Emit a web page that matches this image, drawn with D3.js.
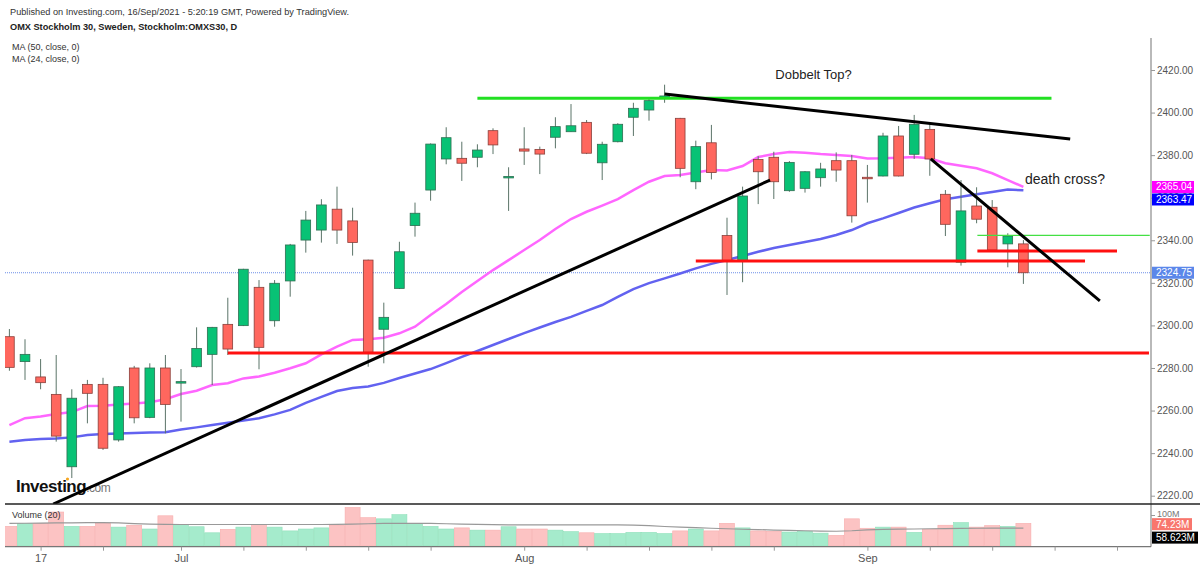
<!DOCTYPE html>
<html>
<head>
<meta charset="utf-8">
<script src="https://cdn.jsdelivr.net/npm/d3@7"></script>
<style>
  body { margin: 0; background: #fff; }
  svg { display: block; font-family: "Liberation Sans", Arial, sans-serif; }
</style>
</head>
<body>
<script>
"use strict";

// OHLC per trading day, 15 Jun .. 15 Sep 2021 (index 0..65)
const opens = [2294.7,2283.0,2275.8,2267.6,2233.6,2272.3,2272.3,2246.2,2280.0,2256.8,
  2280.0,2273.3,2280.6,2286.4,2300.5,2299.9,2317.9,2302.2,2320.9,2340.1,
  2344.8,2354.6,2349.1,2330.7,2298.2,2317.4,2346.9,2363.6,2378.2,2378.5,
  2379.0,2391.5,2369.7,2382.9,2382.7,2388.4,2391.0,2395.4,2376.4,2386.3,
  2397.8,2401.2,2407.3,2397.3,2367.5,2385.8,2342.2,2330.4,2378.0,2379.0,
  2363.3,2364.4,2369.4,2377.4,2377.4,2369.6,2370.2,2389.0,2380.4,2392.1,
  2361.6,2329.7,2356.1,2355.5,2338.3,2338.3];
const highs = [2298.3,2293.5,2284.2,2286.1,2270.0,2274.4,2275.4,2271.5,2281.0,2282.2,
  2286.1,2279.5,2299.1,2299.3,2313.0,2326.6,2321.3,2321.3,2338.3,2353.8,
  2359.3,2365.2,2355.3,2330.9,2310.7,2339.3,2357.7,2385.5,2393.1,2386.3,
  2385.1,2392.6,2374.3,2393.1,2384.0,2397.8,2404.0,2396.5,2386.3,2395.0,
  2404.6,2406.7,2413.1,2397.5,2386.8,2394.2,2350.6,2365.2,2379.5,2381.6,
  2377.2,2372.5,2376.4,2381.3,2380.1,2375.4,2390.5,2393.7,2398.9,2394.6,
  2363.6,2368.3,2364.9,2358.9,2343.3,2340.1];
const lows = [2278.7,2274.4,2270.0,2245.4,2228.3,2254.0,2241.5,2245.4,2254.0,2256.4,
  2249.3,2254.8,2280.2,2272.0,2286.1,2299.7,2279.4,2299.4,2313.5,2334.2,
  2338.9,2338.3,2332.8,2280.6,2282.2,2317.1,2341.7,2358.6,2375.7,2367.9,
  2374.3,2380.5,2353.8,2375.4,2371.1,2383.2,2391.0,2380.5,2368.3,2386.0,
  2389.0,2396.2,2404.6,2369.6,2364.0,2368.6,2314.3,2320.3,2357.0,2359.4,
  2362.8,2362.4,2365.2,2367.5,2348.3,2357.7,2370.0,2370.0,2378.2,2370.3,
  2342.0,2328.1,2348.0,2335.2,2327.3,2319.5];
const closes = [2280.3,2286.4,2273.1,2248.0,2265.8,2268.1,2242.3,2271.2,2256.6,2280.0,
  2262.9,2273.6,2289.2,2299.1,2288.9,2326.4,2289.7,2319.8,2337.8,2349.5,
  2356.6,2344.8,2339.0,2287.4,2303.8,2334.6,2352.7,2385.2,2388.2,2376.2,
  2382.4,2384.8,2370.0,2381.9,2380.5,2393.4,2393.8,2380.9,2385.1,2394.5,
  2402.0,2405.6,2407.8,2373.8,2384.0,2371.8,2330.4,2360.8,2372.2,2367.5,
  2376.6,2372.2,2373.5,2373.0,2351.5,2368.9,2389.0,2370.2,2394.5,2378.2,
  2347.5,2353.8,2349.9,2335.4,2342.0,2324.75];

// volume in millions
const volumes = [64.4,74.3,74.3,111.4,64.4,64.4,74.3,61.9,68.1,55.7,
  99.0,70.5,63.1,43.3,54.5,61.9,70.5,61.9,49.5,55.7,
  59.4,68.1,126.2,92.8,89.1,102.7,74.3,64.4,55.7,59.4,
  52.0,52.0,63.1,55.7,55.7,52.0,47.0,43.3,40.8,40.8,
  44.6,44.6,40.8,49.5,55.7,49.5,74.3,59.4,49.5,48.3,
  45.8,48.3,42.1,34.7,89.1,58.2,61.9,61.9,44.6,54.5,
  68.1,76.7,61.9,66.8,64.4,74.23];
const volumeMA = [74.3,74.6,75.0,75.5,76.0,76.5,76.7,75.5,73.5,72.0,
  71.0,70.5,70.5,70.5,70.5,70.5,70.5,70.5,70.5,70.5,
  70.5,71.0,72.0,73.0,74.0,74.3,74.3,74.0,73.0,72.0,
  71.0,70.0,69.5,69.3,69.3,69.5,69.5,69.3,69.3,69.0,
  68.5,67.0,64.0,62.0,60.0,58.2,56.5,55.0,54.0,52.0,
  51.0,50.0,49.0,48.3,50.0,53.0,54.5,55.5,55.7,56.5,
  57.2,58.0,58.2,58.4,58.5,58.623];

const ma24 = [2253.2,2256.4,2257.2,2258.4,2259.3,2262.1,2262.3,2262.8,2263.3,2263.9,
  2265.3,2267.8,2269.3,2272.0,2272.8,2275.1,2276.0,2277.8,2279.9,2282.2,
  2286.4,2290.0,2293.2,2293.5,2294.2,2296.3,2299.4,2304.9,2310.1,2315.7,
  2320.9,2326.0,2330.7,2335.4,2340.1,2345.3,2350.0,2353.4,2356.3,2359.3,
  2363.6,2367.5,2370.2,2370.7,2371.8,2373.0,2372.8,2374.9,2379.1,2380.5,
  2381.5,2381.1,2380.5,2380.1,2379.6,2378.4,2378.5,2378.8,2379.1,2378.5,
  2376.2,2375.0,2373.8,2371.5,2368.3,2365.04];
const ma50 = [2245.4,2246.2,2246.6,2246.9,2247.4,2248.5,2249.0,2249.2,2249.5,2249.7,
  2249.8,2251.1,2252.1,2253.2,2254.3,2255.3,2256.4,2258.2,2260.3,2263.6,
  2266.4,2269.2,2270.6,2271.3,2273.0,2275.3,2277.4,2279.5,2282.3,2285.2,
  2288.0,2290.8,2293.6,2296.4,2299.0,2301.6,2304.0,2306.8,2309.6,2313.4,
  2317.1,2319.9,2322.1,2324.4,2326.8,2328.9,2330.7,2332.6,2334.6,2336.4,
  2337.8,2339.2,2340.6,2342.5,2344.8,2348.0,2350.3,2352.8,2355.4,2357.4,
  2359.3,2360.5,2361.6,2362.7,2363.9,2363.47];

const priceTicks = [2220, 2240, 2260, 2280, 2300, 2320, 2340, 2360, 2380, 2400, 2420];
const timeTicks = [2, 6, 11, 15, 19, 23, 27, 33, 37, 41, 45, 49, 55, 59, 63, 67, 71];
const timeLabels = {2: "17", 11: "Jul", 33: "Aug", 55: "Sep"};

// hand drawn lines, [index, price] endpoints
const blackLines = [
  [[2.81, 2216.1], [48.76, 2368.3]],
  [[42.0, 2408.7], [68.0, 2387.6]],
  [[59.06, 2378.2], [69.9, 2311.5]]
];
const redLines = [
  [[14.0, 2287.0], [73.05, 2287.0]],
  [[44.0, 2330.3], [68.95, 2330.3]],
  [[62.05, 2335.0], [71.0, 2335.0]]
];
const greenLines = [[[30.0, 2406.7], [66.8, 2406.7]]];
const thinGreenLines = [[[62.05, 2342.3], [73.1, 2342.3]]];
const notes = [
  {text: "Dobbelt Top?", at: [49.1, 2415.6], size: 13},
  {text: "death cross?", at: [65.1, 2366.6], size: 14}
];

const lastPrice = 2324.75;

const W = 1200, H = 566;
const plotLeft = 5, plotRight = 1151;
const priceTop = 38, priceBottom = 504;
const volTop = 504, volBottom = 546.7;

const svg = d3.select("body").append("svg").attr("width", W).attr("height", H);

const x = d3.scaleLinear().domain([0, 65]).range([9.4, 1023.4]);
const y = d3.scaleLinear().domain([2220, 2420]).range([495.7, 70]);
const yv = d3.scaleLinear().domain([0, 100]).range([546, 515.5]);
const step = x(1) - x(0);

svg.append("defs").append("clipPath").attr("id", "priceClip")
  .append("rect").attr("x", plotLeft).attr("y", priceTop)
  .attr("width", plotRight - plotLeft).attr("height", priceBottom - priceTop);
svg.append("defs").append("clipPath").attr("id", "volClip")
  .append("rect").attr("x", plotLeft).attr("y", volTop)
  .attr("width", plotRight - plotLeft).attr("height", volBottom - volTop);

// header
svg.append("text").attr("x", 10).attr("y", 15).attr("font-size", 9.2).attr("fill", "#333")
  .text("Published on Investing.com, 16/Sep/2021 - 5:20:19 GMT, Powered by TradingView.");
svg.append("text").attr("x", 10).attr("y", 29.5).attr("font-size", 9.2).attr("font-weight", "bold").attr("fill", "#222")
  .text("OMX Stockholm 30, Sweden, Stockholm:OMXS30, D");
svg.append("text").attr("x", 12).attr("y", 49.5).attr("font-size", 9).attr("fill", "#333").text("MA (50, close, 0)");
svg.append("text").attr("x", 12).attr("y", 61.5).attr("font-size", 9).attr("fill", "#333").text("MA (24, close, 0)");

// watermark
const logo = svg.append("text").attr("x", 16).attr("y", 492).attr("font-size", 17).attr("font-weight", "bold")
  .attr("fill", "#111").attr("letter-spacing", "-0.5");
logo.append("tspan").text("Investing");
logo.append("tspan").attr("font-size", 12).attr("font-weight", "normal").attr("fill", "#777").text(".com");
svg.append("circle").attr("cx", 67.5).attr("cy", 479).attr("r", 1.6).attr("fill", "#f5a623");

const price = svg.append("g").attr("clip-path", "url(#priceClip)");

// last price dotted line
price.append("line").attr("x1", plotLeft).attr("x2", plotRight)
  .attr("y1", y(lastPrice)).attr("y2", y(lastPrice))
  .attr("stroke", "#6d8fe8").attr("stroke-width", 1).attr("stroke-dasharray", "1,1");

// moving averages
const maLine = d3.line().x((d, i) => x(i)).y(d => y(d));
price.append("path").attr("d", maLine(ma50)).attr("fill", "none")
  .attr("stroke", "#6262f0").attr("stroke-width", 2.5);
price.append("path").attr("d", maLine(ma24)).attr("fill", "none")
  .attr("stroke", "#ff66ff").attr("stroke-width", 2.5);

// candles
const idx = d3.range(opens.length);
const up = i => closes[i] >= opens[i];
price.selectAll("line.wick").data(idx).enter().append("line")
  .attr("class", "wick")
  .attr("x1", i => x(i)).attr("x2", i => x(i))
  .attr("y1", i => y(highs[i])).attr("y2", i => y(lows[i]))
  .attr("stroke", "#5b7468").attr("stroke-width", 1);
price.selectAll("rect.body").data(idx).enter().append("rect")
  .attr("class", "body")
  .attr("x", i => x(i) - step * 0.31)
  .attr("width", step * 0.62)
  .attr("y", i => y(Math.max(opens[i], closes[i])))
  .attr("height", i => Math.max(1.5, Math.abs(y(opens[i]) - y(closes[i]))))
  .attr("fill", i => up(i) ? "#08c275" : "#ff675e")
  .attr("stroke", i => up(i) ? "#2f6e52" : "#8a3f3a")
  .attr("stroke-width", 0.8);

// drawn lines
function drawSegments(list, color, width) {
  list.forEach(seg => {
    price.append("line")
      .attr("x1", x(seg[0][0])).attr("y1", y(seg[0][1]))
      .attr("x2", x(seg[1][0])).attr("y2", y(seg[1][1]))
      .attr("stroke", color).attr("stroke-width", width);
  });
}
drawSegments(greenLines, "#22e022", 3);
drawSegments(thinGreenLines, "#44e044", 1.2);
drawSegments(redLines, "#ff1010", 3);
drawSegments(blackLines, "#000", 3);

notes.forEach(n => {
  svg.append("text").attr("x", x(n.at[0])).attr("y", y(n.at[1]))
    .attr("font-size", n.size).attr("fill", "#222").text(n.text);
});

// volume pane
const vol = svg.append("g").attr("clip-path", "url(#volClip)");
vol.selectAll("rect.vol").data(idx).enter().append("rect")
  .attr("class", "vol")
  .attr("x", i => x(i) - step / 2 + 0.3)
  .attr("width", step - 0.6)
  .attr("y", i => yv(volumes[i]))
  .attr("height", i => yv(0) - yv(volumes[i]))
  .attr("fill", i => up(i) ? "#a5ebcc" : "#fcc3c3")
  .attr("stroke", i => up(i) ? "#8fdfba" : "#f7adad")
  .attr("stroke-width", 0.6);
vol.append("path").attr("d", d3.line().x((d, i) => x(i)).y(d => yv(d))(volumeMA))
  .attr("fill", "none").attr("stroke", "#999").attr("stroke-width", 1.2);
svg.append("text").attr("x", 12).attr("y", 518).attr("font-size", 9).attr("fill", "#333").text("Volume (20)");

// frame
svg.append("line").attr("x1", plotRight).attr("x2", plotRight).attr("y1", priceTop).attr("y2", volBottom)
  .attr("stroke", "#8a8a8a").attr("stroke-width", 1.2);
svg.append("line").attr("x1", plotLeft).attr("x2", W).attr("y1", priceBottom).attr("y2", priceBottom)
  .attr("stroke", "#222").attr("stroke-width", 1.5);
svg.append("line").attr("x1", plotLeft).attr("x2", plotRight).attr("y1", volBottom).attr("y2", volBottom)
  .attr("stroke", "#777").attr("stroke-width", 1.2);

// right price axis
const yAxis = d3.axisRight(y).tickValues(priceTicks).tickSize(4).tickPadding(2)
  .tickFormat(d3.format(".2f"));
const ya = svg.append("g").attr("transform", `translate(${plotRight},0)`).call(yAxis);
ya.select(".domain").remove();
ya.selectAll("line").attr("stroke", "#999");
ya.selectAll("text").attr("fill", "#555").attr("font-size", 10)
  .attr("font-family", "'Liberation Sans', Arial, sans-serif");

// volume axis label
svg.append("text").attr("x", 1157).attr("y", yv(100) + 1.5).attr("font-size", 9).attr("fill", "#777").text("100M");
svg.append("line").attr("x1", plotRight).attr("x2", plotRight + 4).attr("y1", yv(100)).attr("y2", yv(100)).attr("stroke", "#999");

// bottom time axis
const xAxis = d3.axisBottom(x).tickValues(timeTicks).tickSize(4).tickPadding(4)
  .tickFormat(d => timeLabels[d] || "");
const xa = svg.append("g").attr("transform", `translate(0,${volBottom})`).call(xAxis);
xa.select(".domain").remove();
xa.selectAll("line").attr("stroke", "#999");
xa.selectAll("text").attr("fill", "#555").attr("font-size", 11)
  .attr("font-family", "'Liberation Sans', Arial, sans-serif");

// value tags on the axis
function tag(cy, label, bg, w) {
  const g = svg.append("g");
  g.append("rect").attr("x", plotRight + 1).attr("y", cy - 6).attr("width", w).attr("height", 12).attr("fill", bg);
  g.append("text").attr("x", plotRight + 5).attr("y", cy + 3.5).attr("font-size", 10).attr("fill", "#fff").text(label);
}
tag(y(ma24[ma24.length - 1]), d3.format(".2f")(ma24[ma24.length - 1]), "#ff00ff", 42);
tag(y(ma24[ma24.length - 1]) + 12.5, d3.format(".2f")(ma50[ma50.length - 1]), "#0000ff", 42);
tag(y(lastPrice), d3.format(".2f")(lastPrice), "#5b87ea", 42);
tag(yv(volumes[volumes.length - 1]) + 0.8, "74.23M", "#f8766d", 40);
tag(yv(volumeMA[volumeMA.length - 1]) + 9.5, "58.623M", "#000", 46);
</script>
</body>
</html>
